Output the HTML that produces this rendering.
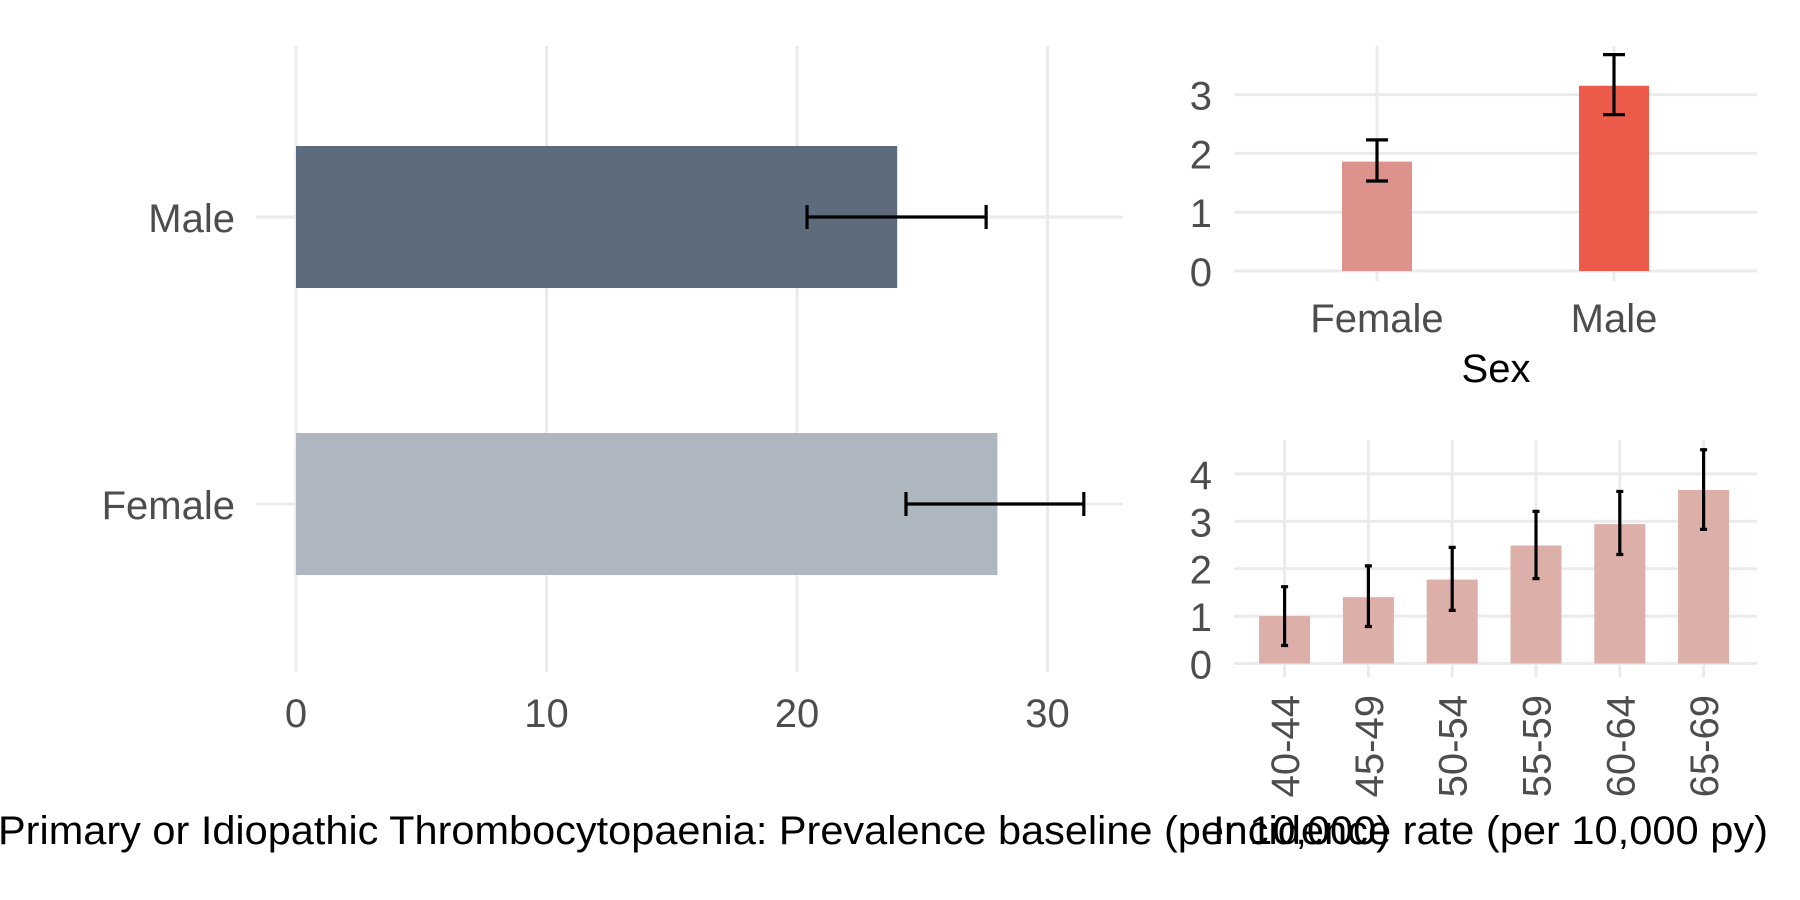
<!DOCTYPE html>
<html><head><meta charset="utf-8"><style>
html,body{margin:0;padding:0;background:#fff}
svg{display:block;font-family:"Liberation Sans",Arial,sans-serif}
</style></head><body>
<svg id="c" width="1800" height="900" viewBox="0 0 1800 900" xmlns="http://www.w3.org/2000/svg"></svg>
<script>
// Prevalence panel (left)
const prevCats = ["Male","Female"];
const prevVals = [24.0, 28.0];
const prevLo = [20.4, 24.35];
const prevHi = [27.55, 31.45];
const prevTicks = [0,10,20,30];
// Incidence by sex (top right)
const sexCats = ["Female","Male"];
const sexVals = [1.86, 3.15];
const sexLo = [1.53, 2.66];
const sexHi = [2.23, 3.68];
const sexTicks = [0,1,2,3];
// Incidence by age (bottom right)
const ageCats = ["40-44","45-49","50-54","55-59","60-64","65-69"];
const ageVals = [1.0, 1.40, 1.77, 2.49, 2.94, 3.66];
const ageLo = [0.38, 0.78, 1.12, 1.79, 2.30, 2.83];
const ageHi = [1.62, 2.06, 2.45, 3.21, 3.63, 4.51];
const ageTicks = [0,1,2,3,4];

const svg = document.getElementById('c');
const NS = 'http://www.w3.org/2000/svg';
function mk(tag, attrs, parent){
  const e = document.createElementNS(NS, tag);
  for (const k in attrs) e.setAttribute(k, attrs[k]);
  (parent||svg).appendChild(e);
  return e;
}
const GRID = '#ebebeb', TXT = '#4d4d4d';

// ---------- Left panel ----------
const gL = mk('g', {});


const lx = v => 296 + v * 25.05;
const ly = {"Male":217, "Female":504};
const lBand = 142;
prevTicks.forEach(t => {
  const l = mk('line', {x1:lx(t), x2:lx(t), y1:46, y2:672, stroke:GRID, 'stroke-width':3}, gL);
  
  
  const tx = mk('text', {x:lx(t), y:727, 'text-anchor':'middle', 'font-size':40, fill:TXT}, gL);
  tx.textContent = t;
  
  
});
prevCats.forEach((c, i) => {
  const y = ly[c];
  const g = mk('line', {x1:256, x2:1123, y1:y, y2:y, stroke:GRID, 'stroke-width':3}, gL);
  
  
  const b = mk('rect', {x:lx(0), y:y - lBand/2, width:lx(prevVals[i]) - lx(0), height:lBand, fill: c === 'Male' ? '#5d6c7c' : '#aeb6bf'}, gL);
  
  
  const e = mk('path', {d:`M${lx(prevLo[i])},${y} H${lx(prevHi[i])} M${lx(prevLo[i])},${y-12} V${y+12} M${lx(prevHi[i])},${y-12} V${y+12}`, stroke:'#000', 'stroke-width':3.2, fill:'none'}, gL);
  
  
  const t = mk('text', {x:235, y:y + 15, 'text-anchor':'end', 'font-size':40, fill:TXT}, gL);
  t.textContent = c;
  
  
});
const t1 = mk('text', {x:-2, y:844, 'font-size':40, fill:'#000', textLength:1392, lengthAdjust:'spacingAndGlyphs'});
t1.textContent = 'Primary or Idiopathic Thrombocytopaenia: Prevalence baseline (per 10,000)';



// ---------- Top-right panel ----------
const gS = mk('g', {});


const sy = v => 271 - v * 58.8;
const sx = {"Female":1377, "Male":1614};
sexTicks.forEach(t => {
  const l = mk('line', {x1:1234, x2:1757, y1:sy(t), y2:sy(t), stroke:GRID, 'stroke-width':3}, gS);
  
  
  const tx = mk('text', {x:1212, y:sy(t) + 15, 'text-anchor':'end', 'font-size':40, fill:TXT}, gS);
  tx.textContent = t;
  
  
});
sexCats.forEach((c, i) => {
  const x = sx[c];
  const g = mk('line', {x1:x, x2:x, y1:46, y2:281, stroke:GRID, 'stroke-width':3}, gS);
  
  
  const b = mk('rect', {x:x - 35, y:sy(sexVals[i]), width:70, height:sy(0) - sy(sexVals[i]), fill: c === 'Male' ? '#ec5a4a' : '#dd938c'}, gS);
  
  
  const e = mk('path', {d:`M${x},${sy(sexLo[i])} V${sy(sexHi[i])} M${x-11},${sy(sexLo[i])} H${x+11} M${x-11},${sy(sexHi[i])} H${x+11}`, stroke:'#000', 'stroke-width':3.2, fill:'none'}, gS);
  
  
  const t = mk('text', {x:x, y:332, 'text-anchor':'middle', 'font-size':40, fill:TXT}, gS);
  t.textContent = c;
  
  
});
const sT = mk('text', {x:1496, y:382, 'text-anchor':'middle', 'font-size':40, fill:'#000'}, gS);
sT.textContent = 'Sex';



// ---------- Bottom-right panel ----------
const gA = mk('g', {});


const ay = v => 663.5 - v * 47.4;
const ax = i => 1284.6 + i * 83.8;
ageTicks.forEach(t => {
  const l = mk('line', {x1:1234, x2:1757, y1:ay(t), y2:ay(t), stroke:GRID, 'stroke-width':3}, gA);
  
  
  const tx = mk('text', {x:1212, y:ay(t) + 15, 'text-anchor':'end', 'font-size':40, fill:TXT}, gA);
  tx.textContent = t;
  
  
});
ageCats.forEach((c, i) => {
  const x = ax(i);
  const g = mk('line', {x1:x, x2:x, y1:440, y2:677, stroke:GRID, 'stroke-width':3}, gA);
  
  
});
ageCats.forEach((c, i) => {
  const x = ax(i);
  const b = mk('rect', {x:x - 25.5, y:ay(ageVals[i]), width:51, height:ay(0) - ay(ageVals[i]), fill:'#dcafa8'}, gA);
  
  
  const e = mk('path', {d:`M${x},${ay(ageLo[i])} V${ay(ageHi[i])} M${x-3.5},${ay(ageLo[i])} H${x+3.5} M${x-3.5},${ay(ageHi[i])} H${x+3.5}`, stroke:'#000', 'stroke-width':3.2, fill:'none'}, gA);
  
  
  const t = mk('text', {x:0, y:0, 'text-anchor':'end', 'font-size':40, fill:TXT, transform:`translate(${x + 14.5},695) rotate(-90)`}, gA);
  t.textContent = c;
  
  
});
const aT = mk('text', {x:1213, y:844, 'font-size':40, fill:'#000', textLength:555, lengthAdjust:'spacingAndGlyphs'});
aT.textContent = 'Incidence rate (per 10,000 py)';


</script>
</body></html>
